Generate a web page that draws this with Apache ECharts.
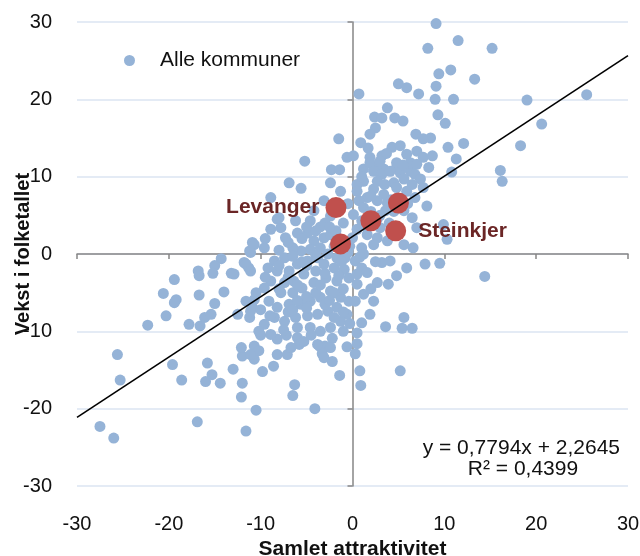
<!DOCTYPE html>
<html><head><meta charset="utf-8">
<script src="https://cdn.jsdelivr.net/npm/echarts@6/dist/echarts.min.js"></script>
<style>html,body{margin:0;padding:0;background:#fff}#c{width:640px;height:556px}</style>
</head><body><div id="c"></div>
<script>
// ---- data ----
const axisTicks = [-30, -20, -10, 0, 10, 20, 30];
const seriesName = 'Alle kommuner';
const xAxisTitle = 'Samlet attraktivitet';
const yAxisTitle = 'Vekst i folketallet';
const trendSlope = [0.7794];
const trendIntercept = [2.2645];
const trendR2 = [0.4399];

const allePoints = [
[9.1,29.8],[8.2,26.6],[9.4,23.3],[5.0,22.0],[5.9,21.5],[7.2,20.7],[9.1,21.7],[9.0,20.0],[0.7,20.7],[9.3,18.0],
[3.8,18.9],[2.4,17.7],[3.2,17.6],[4.6,17.6],[5.5,17.2],[2.5,16.3],[1.9,15.5],[-1.5,14.9],[0.9,14.4],[1.7,13.7],
[6.9,15.5],[8.5,15.0],[7.7,14.9],[10.1,16.9],[-5.2,12.0],[-2.3,10.9],[-1.4,10.9],[-0.6,12.5],[0.1,12.7],[3.2,12.7],
[4.3,13.8],[5.2,14.0],[5.9,12.9],[7.0,13.3],[7.7,12.5],[8.7,12.7],[8.3,11.2],[4.8,11.2],[6.3,10.7],[3.4,11.0],
[1.9,12.5],[2.5,11.2],[1.2,11.0],
[11.5,27.6],[15.2,26.6],[10.7,23.8],[13.3,22.6],[11.0,20.0],[19.0,19.9],[25.5,20.6],[20.6,16.8],[10.4,13.8],[12.1,14.3],
[18.3,14.0],[11.3,12.3],[10.8,10.6],[16.1,10.8],
[16.3,9.4],[9.9,3.8],[10.3,1.9],[9.5,-1.2],[14.4,-2.9],
[-10.9,1.5],[-11.2,0.4],[-14.3,-0.6],[-15.0,-1.5],[-15.2,-2.5],[-16.8,-2.2],[-16.7,-2.8],[-19.4,-3.3],[-13.2,-2.5],[-11.8,-1.1],
[-11.3,-1.8],[-20.6,-5.1],[-19.2,-5.9],[-19.4,-6.3],[-16.7,-5.3],[-14.0,-4.9],[-15.0,-6.4],[-20.3,-8.0],[-22.3,-9.2],[-17.8,-9.1],
[-16.6,-9.3],[-16.1,-8.2],[-15.4,-7.8],[-11.2,-8.2],[-10.9,-6.9],[-10.7,-5.9],
[-25.6,-13.0],[-25.3,-16.3],[-27.5,-22.3],[-26.0,-23.8],[-19.6,-14.3],[-18.6,-16.3],[-15.8,-14.1],[-15.3,-15.6],[-16.0,-16.5],[-14.4,-16.7],
[-13.0,-14.9],[-12.0,-13.2],[-10.7,-11.9],[-10.7,-13.6],[-12.0,-16.7],[-12.1,-18.5],[-16.9,-21.7],[-11.6,-22.9],[-10.5,-20.2],
[-10.0,-10.5],[-10.2,-12.5],[-8.2,-11.0],[-7.2,-10.5],[-6.0,-10.8],[-5.8,-11.7],[-7.1,-13.0],[-9.8,-15.2],[-8.6,-14.5],[-6.3,-16.9],
[-6.5,-18.3],[-4.1,-20.0],[-3.6,-11.9],[-3.0,-11.9],[-3.3,-12.9],[-2.2,-13.9],[-2.2,-10.9],[-1.4,-15.7],[-0.6,-12.0],[0.5,-10.2],
[0.5,-11.6],[0.3,-12.9],[0.8,-15.1],[0.9,-17.0],[5.2,-15.1],[3.6,-9.4],[5.4,-9.6],[6.5,-9.6],[5.6,-8.2],
[3.7,13.0],[1.9,11.8],[4.8,11.8],[6.3,11.8],[7.0,11.6],[2.3,10.7],[3.2,10.3],[4.1,10.7],[5.2,10.5],[6.8,10.3],
[7.4,9.7],[5.6,9.7],[4.5,9.2],[2.7,9.4],[1.2,9.4],[0.5,9.0],[-6.9,9.2],[-5.6,8.5],[-2.4,9.2],[-1.3,8.1],
[0.5,8.1],[1.6,7.3],[2.3,8.4],[3.4,7.7],[3.8,6.6],[2.7,6.9],[4.8,8.6],[5.9,8.1],[6.8,7.3],[7.7,8.6],
[8.1,6.2],[-8.9,7.3],[-8.2,4.5],[-7.8,3.4],[-8.9,3.2],[-7.3,2.1],[-10.7,1.2],[-9.6,0.8],[-6.0,2.7],[-6.2,4.3],
[-4.6,4.3],[-4.2,5.6],[-3.1,6.9],[-2.4,4.9],[0.7,6.9],[1.2,6.0],[0.1,5.1],[1.0,4.3],[2.7,4.5],[3.0,3.4],
[2.7,2.1],[1.6,2.5],[0.5,3.2],[0.0,2.1],[1.0,0.8],[2.3,1.2],[3.8,1.7],[5.6,1.2],[6.6,0.8],[7.0,3.4],
[6.5,4.7],[5.6,5.6],[3.6,5.6],
[-4.9,2.7],[-4.2,1.7],[-3.1,2.1],[-2.4,2.5],[-3.5,0.8],[-4.6,0.6],[-5.6,0.4],[-6.5,0.8],[-7.4,-0.5],[-8.5,-0.9],
[-9.2,-1.8],[-11.1,0.2],[-11.6,-1.3],[-11.1,-2.2],[-12.9,-2.6],[-8.2,-2.2],[-6.9,-2.2],[-6.0,-1.3],[-4.9,-0.9],[-3.8,-0.5],
[-2.7,0.0],[-1.7,-0.5],[-0.8,-0.5],[-3.1,-1.3],[-2.0,-1.8],[-0.9,-2.0],[-4.0,-2.2],[-5.3,-2.6],[-6.4,-3.5],[-7.4,-3.7],
[-8.9,-3.5],[-9.6,-4.4],[-7.8,-5.0],[-6.5,-5.0],[-5.5,-4.4],[-4.2,-3.7],[-2.9,-3.1],[-1.7,-3.5],[-0.4,-3.1],[-2.4,-4.8],
[-3.5,-5.6],[-4.6,-6.1],[-5.6,-6.5],[-6.9,-6.5],[-8.2,-6.9],[-9.1,-6.1],[-10.0,-7.2],[-11.1,-7.4],[-11.6,-6.1],[-10.5,-5.0],
[-12.5,-7.8],[-1.3,-5.6],[-0.4,-6.1],[-1.7,-6.9],[-2.7,-7.4],[-3.8,-7.8],[-4.9,-8.0],[-6.2,-8.2],[-7.4,-8.7],[-8.5,-8.2],
[-9.6,-9.1],[-10.2,-10.0],[-6.0,-9.5],[-4.6,-9.5],[-3.5,-10.0],[-2.4,-9.5],[-1.3,-8.7],[-0.6,-7.8],[-8.9,-10.4],[-5.3,-11.3],
[-3.8,-11.7],[-2.4,-12.1],[-3.1,-13.4],[-6.7,-12.1],[-8.2,-13.0],[-12.1,-12.1],[-11.1,-13.0],
[0.3,-0.9],[1.2,0.0],[1.0,-1.8],[0.5,-2.6],[1.6,-2.4],[0.5,-3.9],[1.2,-5.2],[0.3,-6.1],[2.3,-6.1],[1.9,-7.8],
[1.0,-8.9],[2.7,-3.7],[3.9,-3.9],[3.2,-1.1],[4.1,-0.9],[4.8,-2.8],[5.9,-1.8],[7.9,-1.3],[-8.0,4.7],
[-1.0,4.0],[-0.5,6.5],[-1.8,3.0],[-3.5,3.5],[-0.3,1.0],[-1.2,-1.0],[0.8,-0.4],
[-5.0,-1.5],[-3.0,-2.5],[-1.5,-2.8],[-6.0,-4.0],[-4.0,-5.0],[-2.0,-5.0],[-7.0,-7.5],[-5.0,-7.0],[-3.0,-6.5],[-1.0,-4.5],
[-8.0,-1.5],[-7.0,1.5],[-5.0,3.5],[-3.0,4.0],[-2.0,1.0],[2.0,5.5],[4.0,4.0],[3.5,9.0],[6.0,6.5],[1.0,10.0],
[-9.5,-3.0],[-8.0,-4.5],[-7.0,-3.0],[-6.0,-6.0],[-5.0,-5.5],[-3.5,-4.0],[-2.5,-6.0],[-1.0,-7.5],[-4.5,-10.5],[-7.5,-9.8],
[-9.0,-8.0],[-6.5,-7.2],[-2.0,-8.2],[-1.0,-10.0],[-0.3,-9.0],[-5.5,-1.0],[-4.0,-0.2],[-6.5,-0.3],[-8.0,0.5],[-9.5,2.0],
[-4.0,3.0],[-5.5,2.0],[-2.5,3.5],[-0.5,0.2],[-1.5,2.0],[1.5,3.5],[3.0,5.0],[4.5,5.5],[2.0,7.5],[4.2,7.0],
[6.5,9.0],[3.0,12.0],[5.5,11.5],[2.5,-1.0],[2.0,-4.5]
];

const highlightPoints = [[-1.8,6.0],[-1.3,1.3],[2.0,4.3],[5.0,6.6],[4.7,3.0]];
const highlightNames = ['Levanger','','','','Steinkjer'];

// ---- chart ----
const FONT = 'Liberation Sans';
const TXT = '#111';
const s = trendSlope[0], b = trendIntercept[0];
const xMin = axisTicks[0], xMax = axisTicks[axisTicks.length-1];
const fmt = (v) => v.toFixed(4).replace('.', ',');

const hiData = highlightPoints.map((p, i) => {
  const nm = highlightNames[i];
  const item = { value: p, name: nm };
  if (nm) {
    item.label = {
      show: true, formatter: nm,
      position: i === 0 ? 'left' : 'right',
      distance: i === 0 ? 6 : 12,
      fontFamily: FONT, fontWeight: 'bold', fontSize: 21, color: '#6b2626'
    };
  }
  return item;
});

const chart = echarts.init(document.getElementById('c'), null, {renderer: 'canvas'});
chart.setOption({
  animation: false,
  textStyle: { fontFamily: FONT },
  grid: { left: 77, right: 12, top: 22, bottom: 70, containLabel: false, outerBoundsMode: 'none' },
  legend: {
    data: [seriesName], left: 119, top: 45, icon: 'circle', itemWidth: 11, itemHeight: 11,
    textStyle: { fontFamily: FONT, fontSize: 21, color: TXT, padding: [0, 0, 0, 20] }
  },
  xAxis: [
    { type: 'value', min: xMin, max: xMax, interval: 10, position: 'bottom',
      axisLine: { show: false, onZero: false }, axisTick: { show: false }, splitLine: { show: false },
      axisLabel: { fontSize: 20, color: TXT, margin: 28, fontFamily: FONT },
      name: xAxisTitle, nameLocation: 'middle', nameGap: 49,
      nameTextStyle: { fontWeight: 'bold', fontSize: 21, color: TXT, fontFamily: FONT } },
    { type: 'value', min: xMin, max: xMax, interval: 10, position: 'bottom',
      axisLine: { show: true, onZero: true, onZeroAxisIndex: 1, lineStyle: { color: '#868686', width: 1.5 } },
      axisTick: { show: true, length: 5, lineStyle: { color: '#868686', width: 1.5 } },
      axisLabel: { show: false }, splitLine: { show: false } }
  ],
  yAxis: [
    { type: 'value', min: xMin, max: xMax, interval: 10, position: 'left',
      axisLine: { show: false, onZero: false }, axisTick: { show: false },
      splitLine: { show: true, lineStyle: { color: '#dbe5f2', width: 1.5 } },
      axisLabel: { fontSize: 20, color: TXT, margin: 25, fontFamily: FONT },
      name: yAxisTitle, nameLocation: 'middle', nameGap: 44, nameRotate: 90, nameMoveOverlap: false,
      nameTextStyle: { fontWeight: 'bold', fontSize: 20, color: TXT, fontFamily: FONT } },
    { type: 'value', min: xMin, max: xMax, interval: 10, position: 'left',
      axisLine: { show: true, onZero: true, onZeroAxisIndex: 1, lineStyle: { color: '#868686', width: 1.5 } },
      axisTick: { show: true, length: 5, lineStyle: { color: '#868686', width: 1.5 } },
      axisLabel: { show: false }, splitLine: { show: false } }
  ],
  graphic: [
    { type: 'text', x: 620, y: 448, z: 100,
      style: { text: 'y = ' + fmt(s) + 'x + ' + fmt(b), fontFamily: FONT, fontSize: 21, fill: TXT,
               textAlign: 'right', textVerticalAlign: 'middle' } },
    { type: 'text', x: 523, y: 469, z: 100,
      style: { text: 'R² = ' + fmt(trendR2[0]), fontFamily: FONT, fontSize: 21, fill: TXT,
               textAlign: 'center', textVerticalAlign: 'middle' } }
  ],
  series: [
    { name: seriesName, type: 'scatter', xAxisIndex: 0, yAxisIndex: 0, data: allePoints,
      symbolSize: 11, itemStyle: { color: '#95b3d7', opacity: 1 }, z: 2, silent: true },
    { name: 'Utvalgte', type: 'scatter', xAxisIndex: 0, yAxisIndex: 0, data: hiData,
      symbolSize: 21, itemStyle: { color: '#c0504d', opacity: 1 }, z: 3, silent: true },
    { name: 'Trend', type: 'line', xAxisIndex: 0, yAxisIndex: 0,
      data: [[xMin, s * xMin + b], [xMax, s * xMax + b]],
      showSymbol: false, symbol: 'none', lineStyle: { color: '#000', width: 1.6 }, z: 4, silent: true }
  ]
});
</script></body></html>
